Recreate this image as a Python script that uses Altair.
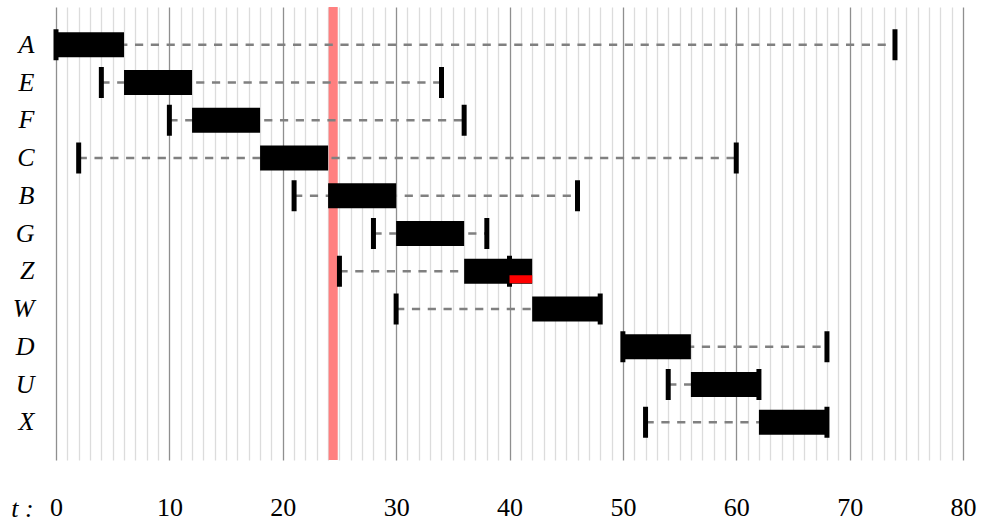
import altair as alt
import pandas as pd

# Schedule of jobs: release time, execution interval and deadline
tasks = ["A", "E", "F", "C", "B", "G", "Z", "W", "D", "U", "X"]
release = [0, 4, 10, 2, 21, 28, 25, 30, 50, 54, 52]
start = [0, 6, 12, 18, 24, 30, 36, 42, 50, 56, 62]
finish = [6, 12, 18, 24, 30, 36, 42, 48, 56, 62, 68]
deadline = [74, 34, 36, 60, 46, 38, 40, 48, 68, 62, 68]

# Highlighted instant on the time line
marker_from = [24.05]
marker_to = [24.85]

# Jobs that run past their deadline
late_task = ["Z"]
late_from = [40]
late_to = [42]

x_ticks = list(range(0, 81))

jobs = pd.DataFrame(
    {"task": tasks, "release": release, "start": start,
     "finish": finish, "deadline": deadline}
)
marker = pd.DataFrame({"x0": marker_from, "x1": marker_to})
late = pd.DataFrame({"task": late_task, "x0": late_from, "x1": late_to})

SERIF = "Liberation Serif"

x_scale = alt.Scale(domain=[0, 80], nice=False, zero=False)
y_scale = alt.Scale(domain=tasks, paddingInner=0, paddingOuter=0.5)

x_axis = alt.Axis(
    values=x_ticks,
    labelExpr="datum.value % 10 === 0 ? datum.label : ''",
    labelOverlap=False,
    labelFlush=False,
    labelFont=SERIF,
    labelFontSize=26,
    labelColor="black",
    labelPadding=34,
    ticks=False,
    domain=False,
    grid=True,
    gridColor={"condition": {"test": "datum.value % 10 === 0", "value": "#8f8f8f"},
               "value": "#dcdcdc"},
    gridWidth=1.3,
    title="t\u00a0:",
    titleFont=SERIF,
    titleFontSize=26,
    titleFontStyle="italic",
    titleFontWeight="normal",
    titleColor="black",
    titleX=-34,
    titleY=48,
    titleAlign="center",
    titleBaseline="middle",
)

y_axis = alt.Axis(
    title=None,
    labelFont=SERIF,
    labelFontSize=26,
    labelFontStyle="italic",
    labelColor="black",
    labelPadding=22,
    ticks=False,
    domain=False,
    grid=False,
)

base = alt.Chart(jobs)

band = alt.Chart(marker).mark_rect(color="#ff8080").encode(
    x=alt.X("x0:Q", scale=x_scale, axis=x_axis),
    x2="x1:Q",
)

window = base.mark_rule(color="#808080", strokeWidth=2.6, strokeDash=[8.2, 7.6]).encode(
    x=alt.X("release:Q", scale=x_scale, axis=x_axis),
    x2="deadline:Q",
    y=alt.Y("task:N", scale=y_scale, axis=y_axis, sort=tasks),
)

run = base.mark_bar(color="black", size=25).encode(
    x=alt.X("start:Q", scale=x_scale, axis=x_axis),
    x2="finish:Q",
    y=alt.Y("task:N", scale=y_scale, axis=y_axis, sort=tasks),
)

rel_tick = base.mark_tick(color="black", thickness=5, size=31, opacity=1).encode(
    x=alt.X("release:Q", scale=x_scale, axis=x_axis),
    y=alt.Y("task:N", scale=y_scale, axis=y_axis, sort=tasks),
)

dl_tick = base.mark_tick(color="black", thickness=5, size=31, opacity=1).encode(
    x=alt.X("deadline:Q", scale=x_scale, axis=x_axis),
    y=alt.Y("task:N", scale=y_scale, axis=y_axis, sort=tasks),
)

overrun = alt.Chart(late).mark_bar(color="#ff0000", size=8, yOffset=8).encode(
    x=alt.X("x0:Q", scale=x_scale, axis=x_axis),
    x2="x1:Q",
    y=alt.Y("task:N", scale=y_scale, axis=y_axis, sort=tasks),
)

chart = (
    alt.layer(band, window, run, rel_tick, dl_tick, overrun)
    .properties(
        width=907,
        height=453,
        autosize=alt.AutoSizeParams(type="none"),
        padding={"left": 56, "top": 7, "right": 18, "bottom": 61},
        background="white",
    )
    .configure_view(stroke=None)
)

chart.save("out.html", embed_options={"renderer": "svg", "actions": False})
